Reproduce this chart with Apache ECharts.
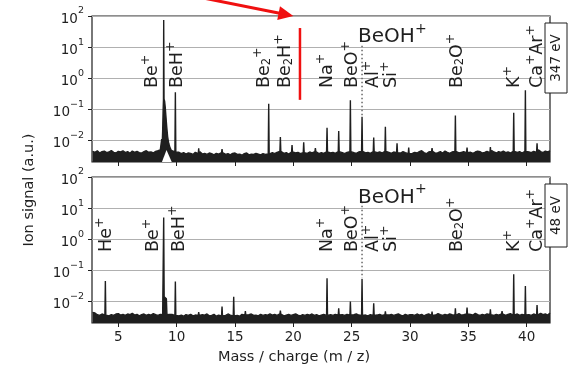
<!DOCTYPE html>
<html>
<head>
<meta charset="utf-8">
<script src="https://cdn.jsdelivr.net/npm/echarts@6/dist/echarts.min.js"></script>
<style>
html, body { margin: 0; padding: 0; background: #fff; }
#chart { width: 569px; height: 371px; }
</style>
</head>
<body>
<div id="chart"></div>
<script>
// Noise floor, sampled every 0.2 m/z starting at 2.8, in units of 1e-3 a.u.
// null marks samples replaced by the Be+ peak profile.
const noiseStart = 2.8;
const noiseStep = 0.2;
const noise347 = [
  4.4,4.1,4.6,3.9,4.3,4.5,4.0,4.2,4.7,4.1,
  3.9,4.4,4.2,4.6,4.0,4.3,3.8,4.5,4.1,4.4,
  4.0,3.9,4.3,4.6,4.1,4.2,3.9,4.4,4.6,4.9,
  null,null,null,null,
  4.6,4.2,3.9,4.1,3.7,4.0,3.6,3.9,3.8,3.5,
  4.1,3.7,4.3,3.6,3.8,3.5,3.9,3.7,3.4,3.8,
  3.6,4.0,4.2,3.5,3.7,3.4,3.8,3.9,3.5,3.6,
  3.3,3.7,3.9,3.4,3.6,3.5,3.8,3.6,3.4,3.7,
  3.5,3.6,3.8,
  4.0,3.7,4.1,4.4,4.3,3.8,4.0,3.6,4.2,4.5,
  3.9,4.1,3.7,4.0,4.4,3.8,4.2,3.9,4.3,4.1,
  3.7,4.0,3.8,4.2,4.5,3.9,4.1,3.8,4.3,4.4,
  4.0,3.7,4.1,4.3,4.6,4.0,3.8,4.2,4.4,4.5,
  3.9,4.1,3.8,4.3,4.6,4.0,4.2,3.9,4.4,4.7,
  4.1,3.8,4.2,4.0,4.5,3.9,4.3,4.0,3.7,4.2,
  3.8,4.1,3.9,4.3,4.6,4.0,3.7,4.2,4.4,4.1,
  3.8,4.0,4.3,3.9,4.5,4.1,3.8,4.2,4.4,4.3,
  3.9,4.1,4.3,4.0,4.6,4.1,3.8,4.2,4.5,4.3,
  3.9,4.1,4.4,4.0,4.7,4.2,3.9,4.3,4.1,4.5,
  4.0,4.2,3.9,4.4,4.6,4.1,4.3,3.9,4.4,4.8,
  4.2,4.0,4.4,4.1,4.9,4.3,4.0,4.5,4.2,4.6
];
const noise48 = [
  4.4,4.2,3.7,3.5,3.9,3.6,3.8,3.4,3.7,3.5,
  3.9,4.0,3.6,3.8,3.5,3.9,3.7,4.1,3.6,3.8,
  3.4,3.7,3.9,3.5,3.8,3.6,4.0,3.7,3.5,3.8,
  3.7,null,3.6,3.8,
  3.8,3.5,3.7,3.4,3.6,3.3,3.7,3.5,3.8,3.4,
  3.6,3.5,3.3,3.7,3.6,3.9,3.4,3.5,3.8,3.3,
  3.6,3.4,3.7,3.5,3.9,3.6,3.4,3.7,3.5,3.3,
  3.8,3.6,3.4,3.7,3.9,3.5,3.6,3.4,3.8,3.5,
  3.7,3.6,3.9,
  3.6,3.8,3.5,3.9,3.7,3.4,3.6,3.8,3.5,3.7,
  3.9,3.6,3.4,3.7,3.5,3.8,3.6,3.9,3.5,3.7,
  3.4,3.6,3.8,3.5,4.0,3.7,3.5,3.8,3.6,3.9,
  3.7,3.5,3.8,3.6,3.4,3.7,3.9,3.6,3.5,3.8,
  3.6,3.4,3.7,3.5,3.9,3.6,3.8,3.5,3.7,3.4,
  3.6,3.8,3.5,3.7,3.9,3.6,3.4,3.8,3.5,3.7,
  3.7,3.5,3.9,3.6,3.8,3.4,3.7,3.9,3.5,3.8,
  3.6,4.0,3.7,3.5,3.8,3.6,3.9,3.7,3.5,3.8,
  4.0,3.6,3.7,3.9,3.5,3.8,3.6,4.1,3.7,3.5,
  3.8,3.6,3.9,3.7,4.0,3.5,3.8,3.6,3.9,3.7,
  3.5,3.8,4.0,3.6,3.7,3.9,3.5,3.8,3.6,4.0,
  3.7,3.5,3.9,3.6,3.8,4.1,3.7,3.9,3.6,4.2
];

// Narrow peaks: [m/z, signal]
const peaks347 = [
  [9.89,0.35],[11.89,0.0055],[13.89,0.0052],[17.89,0.15],[18.89,0.0128],
  [19.89,0.007],[20.89,0.0087],[21.89,0.0056],[22.89,0.0255],[23.89,0.02],
  [24.89,0.195],[25.89,0.057],[26.89,0.0122],[27.89,0.027],[28.89,0.008],
  [29.89,0.0058],[31.89,0.0056],[33.89,0.063],[34.89,0.0058],[36.89,0.006],
  [38.89,0.077],[39.89,0.41],[40.89,0.008]
];
const peaks48 = [
  [3.89,0.045],[9.89,0.043],[11.89,0.0045],[13.89,0.0068],[14.89,0.014],
  [15.89,0.0048],[18.89,0.005],[22.89,0.055],[23.89,0.006],[24.89,0.0098],
  [25.89,0.052],[26.89,0.0086],[27.89,0.0047],[31.89,0.0047],[33.89,0.006],
  [34.89,0.0063],[36.89,0.0055],[37.89,0.0048],[38.89,0.074],[39.89,0.031],
  [40.89,0.0076]
];

// Be+ peak with its broad shoulder
const beProfile347 = [
  [8.66,0.0048],[8.72,0.011],[8.76,0.007],[8.8,0.02],[8.84,0.09],[8.87,0.2],
  [8.89,74],[8.92,0.21],[8.97,0.18],[9.02,0.12],[9.08,0.06],[9.15,0.027],
  [9.23,0.013],[9.32,0.008],[9.43,0.0058],[9.55,0.0047]
];
// lower envelope of the shoulder (nothing recorded below it)
const beFloor347 = [[8.74,0.002],[9.13,0.0049],[9.58,0.002]];
const beProfile48 = [
  [8.84,0.0036],[8.89,5.0],[8.93,0.014],[9.12,0.012],[9.17,0.0037]
];

// BeOH+ position marker: [m/z, signal]
const beohMark347 = [[25.89,11],[25.89,0.06]];
const beohMark48 = [[25.89,16],[25.89,0.055]];

const xTicks = [5,10,15,20,25,30,35,40];
const yTicks = [0.01,0.1,1,10,100];

// Ion labels (rich-text markup) and their m/z positions
const ions347 = ['{n|Be}{p|+}','{n|BeH}{p|+}','{n|Be}{b|2}{p|+}','{n|Be}{b|2}{n|H}{p|+}',
  '{n|Na}{p|+}','{n|BeO}{p|+}','{n|Al}{p|+}','{n|Si}{p|+}','{n|Be}{b|2}{n|O}{p|+}',
  '{n|K}{p|+}','{n|Ca}{p|+}{n|Ar}{p|+}'];
const ionPos347 = [7.72,9.86,17.32,19.16,22.76,24.86,26.66,28.24,33.86,38.79,40.72];
const ions48 = ['{n|He}{p|+}','{n|Be}{p|+}','{n|BeH}{p|+}','{n|Na}{p|+}','{n|BeO}{p|+}',
  '{n|Al}{p|+}','{n|Si}{p|+}','{n|Be}{b|2}{n|O}{p|+}','{n|K}{p|+}','{n|Ca}{p|+}{n|Ar}{p|+}'];
const ionPos48 = [3.82,7.80,10.07,22.76,24.86,26.66,28.2,33.86,38.79,40.72];

const FONT = '"DejaVu Sans", "Liberation Sans", sans-serif';
const INK = '#1f1f1f';

function buildSpectrum(noise, peaks, profile) {
  const lo = profile[0][0], hi = profile[profile.length - 1][0];
  const pts = [];
  noise.forEach((v, i) => {
    if (v == null) return;
    const x = +(noiseStart + i * noiseStep).toFixed(2);
    if (x >= lo && x <= hi) return;
    if (peaks.some(p => Math.abs(p[0] - x) < 0.1)) return;
    pts.push([x, v * 1e-3]);
  });
  peaks.forEach(([m, h]) => {
    const base = noise[Math.round((m - noiseStart) / noiseStep)] * 1e-3;
    pts.push([m - 0.04, base], [m, h], [m + 0.04, base]);
  });
  profile.forEach(p => pts.push(p));
  pts.sort((a, b) => a[0] - b[0]);
  return pts;
}

const GL = 92, GW = 458, GH = 146;
const gridTops = [16, 177];

function supLabel(v) {
  const e = Math.round(Math.log10(v));
  if (Math.abs(Math.log10(v) - e) > 1e-6) return '';
  return '{b|10}{s|' + (e < 0 ? '\u2212' + (-e) : e) + '}';
}

function xAxis(gi, showLabels) {
  return {
    type: 'value', gridIndex: gi, min: 2.745, max: 42,
    axisLine: { show: false },
    splitLine: { show: false },
    axisTick: { show: true, inside: false, length: 4, customValues: xTicks,
      lineStyle: { color: INK, width: 1 } },
    axisLabel: { show: showLabels, customValues: xTicks, margin: 7,
      fontFamily: FONT, fontSize: 13.5, color: INK }
  };
}
function yAxis(gi) {
  return {
    type: 'log', logBase: 10, gridIndex: gi, min: 0.002, max: 100,
    axisLine: { show: false },
    splitLine: { show: true, lineStyle: { color: '#b0b0b0', width: 1 } },
    axisTick: { show: true, inside: false, length: 4, customValues: yTicks,
      lineStyle: { color: INK, width: 1 } },
    axisLabel: {
      show: true, customValues: yTicks, margin: 8, formatter: supLabel,
      rich: {
        b: { fontFamily: FONT, fontSize: 13.5, color: INK, lineHeight: 20, verticalAlign: 'bottom' },
        s: { fontFamily: FONT, fontSize: 9.5, color: INK, lineHeight: 11, verticalAlign: 'top' }
      }
    }
  };
}

function spectrumSeries(gi, data) {
  return {
    type: 'line', xAxisIndex: gi, yAxisIndex: gi, data, symbol: 'none',
    lineStyle: { color: INK, width: 1.4 },
    areaStyle: { color: INK, opacity: 1, origin: 'start' },
    z: 3, silent: true
  };
}

const chart = echarts.init(document.getElementById('chart'), null, { renderer: 'canvas' });
chart.setOption({
  animation: false,
  backgroundColor: '#fff',
  grid: gridTops.map(t => ({
    left: GL, top: t, width: GW, height: GH, show: true,
    borderColor: INK, borderWidth: 1.2, backgroundColor: 'transparent'
  })),
  xAxis: [xAxis(0, false), xAxis(1, true)],
  yAxis: [yAxis(0), yAxis(1)],
  series: [
    spectrumSeries(0, buildSpectrum(noise347, peaks347, beProfile347)),
    {
      type: 'line', xAxisIndex: 0, yAxisIndex: 0, data: beFloor347, symbol: 'none',
      lineStyle: { width: 0 }, areaStyle: { color: '#fff', opacity: 1, origin: 'start' },
      z: 4, silent: true
    },
    spectrumSeries(1, buildSpectrum(noise48, peaks48, beProfile48)),
    {
      type: 'line', xAxisIndex: 0, yAxisIndex: 0, data: beohMark347, symbol: 'none',
      lineStyle: { color: '#666', width: 1.5, type: [1.5, 2.5] }, z: 2, silent: true
    },
    {
      type: 'line', xAxisIndex: 1, yAxisIndex: 1, data: beohMark48, symbol: 'none',
      lineStyle: { color: '#666', width: 1.5, type: [1.5, 2.5] }, z: 2, silent: true
    }
  ]
});

// Annotations: ion labels, energy tags, axis titles
const ionRich = {
  n: { fontFamily: FONT, fontSize: 17.5, lineHeight: 22, verticalAlign: 'bottom', fill: INK },
  p: { fontFamily: FONT, fontSize: 12.5, lineHeight: 13, verticalAlign: 'top', fill: INK },
  b: { fontFamily: FONT, fontSize: 11.5, lineHeight: 12, verticalAlign: 'bottom', fill: INK }
};
const px = (gi, x, y) => chart.convertToPixel({ gridIndex: gi }, [x, y]);
const graphics = [];

function ionLabels(gi, names, pos, baseY) {
  names.forEach((t, i) => {
    const [x, y] = px(gi, pos[i], baseY);
    graphics.push({
      type: 'text', x, y, rotation: Math.PI / 2, z: 50, silent: true,
      style: { text: t, rich: ionRich, align: 'left', verticalAlign: 'middle' }
    });
  });
}
ionLabels(0, ions347, ionPos347, 0.48);
ionLabels(1, ions48, ionPos48, 0.386);

[[0, 25], [1, 26]].forEach(([gi, yv]) => {
  const [x, y] = px(gi, 25.55, yv);
  graphics.push({
    type: 'text', x, y, z: 50, silent: true,
    style: {
      text: '{n|BeOH}{p|+}', align: 'left', verticalAlign: 'middle',
      rich: {
        n: { fontFamily: FONT, fontSize: 20, lineHeight: 25, verticalAlign: 'bottom', fill: INK },
        p: { fontFamily: FONT, fontSize: 14, lineHeight: 14, verticalAlign: 'top', fill: INK }
      }
    }
  });
});

// energy tags on the right edge
[['347 eV', 0, 7, 70], ['48 eV', 1, 7, 63]].forEach(([t, gi, dy, h]) => {
  const bx = GL + GW - 5, by = gridTops[gi] + dy, w = 22;
  graphics.push({
    type: 'rect', z: 60, silent: true,
    shape: { x: bx, y: by, width: w, height: h },
    style: { fill: '#fff', stroke: INK, lineWidth: 1 }
  });
  graphics.push({
    type: 'text', x: bx + w / 2 + 0.5, y: by + h / 2, rotation: Math.PI / 2, z: 61, silent: true,
    style: { text: t, font: '13.5px ' + FONT, fill: INK, align: 'center', verticalAlign: 'middle' }
  });
});

// axis titles
graphics.push({
  type: 'text', x: 29, y: 190, rotation: Math.PI / 2, z: 50, silent: true,
  style: { text: 'Ion signal (a.u.)', font: '14.5px ' + FONT, fill: INK, align: 'center', verticalAlign: 'middle' }
});
graphics.push({
  type: 'text', x: 294, y: 357, z: 50, silent: true,
  style: { text: 'Mass / charge (m / z)', font: '14.5px ' + FONT, fill: INK, align: 'center', verticalAlign: 'middle' }
});

// red highlight: arrow into the top frame and a vertical bar
(function () {
  const [tx, ty] = px(0, 20, 100);
  const dir = [0.981, 0.196], len = 15, half = 7;
  const bcx = tx - len * dir[0], bcy = ty - len * dir[1];
  graphics.push({
    type: 'line', z: 70, silent: true,
    shape: { x1: tx - 95 * dir[0], y1: ty - 95 * dir[1], x2: bcx + 1, y2: bcy + 0.2 },
    style: { stroke: '#f01010', lineWidth: 3 }
  });
  graphics.push({
    type: 'polygon', z: 70, silent: true,
    shape: { points: [[tx, ty], [bcx - half * dir[1], bcy + half * dir[0]], [bcx + half * dir[1], bcy - half * dir[0]]] },
    style: { fill: '#f01010' }
  });
  const [vx, vTop] = px(0, 20.57, 41);
  const [, vBot] = px(0, 20.57, 0.2);
  graphics.push({
    type: 'line', z: 70, silent: true,
    shape: { x1: vx, y1: vTop, x2: vx, y2: vBot },
    style: { stroke: '#f01010', lineWidth: 2.5 }
  });
})();

chart.setOption({ graphic: graphics });
</script>
</body>
</html>
